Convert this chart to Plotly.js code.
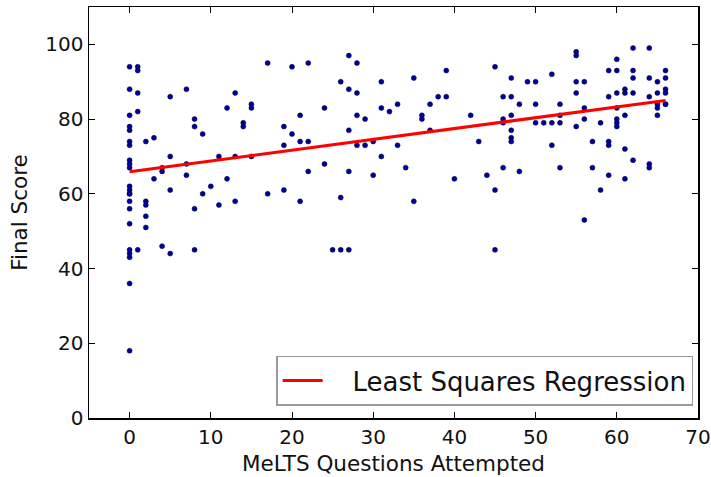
<!DOCTYPE html>
<html>
<head>
<meta charset="utf-8">
<script src="https://cdn.plot.ly/plotly-3.0.1.min.js"></script>
<style>html,body{margin:0;padding:0;background:#fff;}#chart{width:711px;height:477px;}</style>
</head>
<body>
<div id="chart"></div>
<script>
const questionsAttempted = [
  0,0,0,0,0,0,0,0,0,0,0,0,0,0,0,0,0,0,0,0,0,0,
  1,1,1,1,1,
  2,2,2,2,2,
  3,3,
  4,4,4,
  5,5,5,5,
  7,7,7,
  8,8,8,8,
  9,9,
  10,
  11,11,
  12,12,
  13,13,13,
  14,14,
  15,15,15,
  17,17,
  19,19,19,
  20,20,
  21,21,21,
  22,22,22,
  24,24,
  25,26,27,
  26,26,
  27,27,27,27,
  28,28,28,28,
  29,29,
  30,30,
  31,31,31,
  32,
  33,33,
  34,
  35,35,
  36,36,
  37,37,
  38,
  39,39,
  40,
  42,
  43,
  44,
  45,45,45,
  46,46,46,46,
  47,47,47,47,47,47,
  48,48,
  49,
  50,50,50,
  51,
  52,52,52,
  53,53,53,53,
  55,55,55,55,55,
  56,56,56,56,
  57,57,
  58,58,
  59,59,59,59,59,
  60,60,60,60,60,60,60,
  61,61,61,61,61,
  62,62,62,62,62,
  64,64,64,64,64,
  65,65,65,65,65,
  66,66,66,66,66,66
];
const finalScore = [
  94,88,81,78,77,74,73,69,68,67,62,61,60,60,58,56,52,45,44,43,36,18,
  94,93,87,82,45,
  74,58,57,54,51,
  75,64,
  67,66,46,
  86,70,61,44,
  88,68,65,
  80,78,56,45,
  76,60,
  62,
  70,57,
  83,64,
  87,70,58,
  79,78,
  84,83,70,
  95,60,
  78,73,61,
  94,76,
  81,74,58,
  95,74,66,
  83,68,
  45,45,45,
  90,59,
  97,88,77,66,
  95,87,81,73,
  80,73,
  74,65,
  90,83,70,
  82,
  84,73,
  67,
  91,58,
  81,80,
  84,77,
  86,
  93,86,
  64,
  81,
  74,
  65,
  94,61,45,
  86,80,79,67,
  91,86,81,77,75,74,
  84,66,
  90,
  90,84,79,
  79,
  92,79,73,
  84,81,79,67,
  98,97,90,87,78,
  90,83,80,53,
  74,67,
  79,61,
  93,86,74,73,65,
  96,93,87,83,80,79,78,
  88,87,81,72,64,
  99,93,91,87,69,
  99,91,86,68,67,
  90,87,84,83,81,
  93,91,88,87,84,84
];
const regressionX = [0, 66];
const regressionY = [65.9, 85.0];
const xTicks = [0,10,20,30,40,50,60,70];
const yTicks = [0,20,40,60,80,100];

const font = "'DejaVu Sans', sans-serif";

const traces = [
  {
    x: questionsAttempted, y: finalScore, type: 'scatter', mode: 'markers',
    marker: {color: '#00009c', size: 5, line: {color: '#000033', width: 0.5}},
    showlegend: false, hoverinfo: 'x+y'
  },
  {
    x: regressionX, y: regressionY, type: 'scatter', mode: 'lines',
    line: {color: '#ff0000', width: 3},
    name: '\u00a0\u00a0\u00a0Least Squares Regression'
  }
];

const axisCommon = {
  showgrid: false, zeroline: false, showline: true, linecolor: '#000', linewidth: 1.5,
  mirror: 'ticks', ticks: 'inside', ticklen: 6, tickwidth: 1, tickcolor: '#000',
  tickfont: {family: font, size: 20, color: '#111'}
};

const layout = {
  width: 711, height: 477,
  margin: {l: 89, r: 13, t: 7, b: 59},
  paper_bgcolor: '#fff', plot_bgcolor: '#fff',
  font: {family: font, color: '#111'},
  xaxis: Object.assign({}, axisCommon, {
    range: [-5, 70], tickvals: xTicks, ticktext: xTicks.map(String),
    title: {text: 'MeLTS Questions Attempted', font: {family: font, size: 21.5, color: '#111'}, standoff: 8}
  }),
  yaxis: Object.assign({}, axisCommon, {
    range: [0, 110], tickvals: yTicks, ticktext: yTicks.map(String),
    title: {text: 'Final Score', font: {family: font, size: 21.5, color: '#111'}, standoff: 12}
  }),
  legend: {
    x: 0.992, y: 0.03, xanchor: 'right', yanchor: 'bottom',
    bgcolor: '#fff', bordercolor: '#999', borderwidth: 1.5,
    itemwidth: 40,
    font: {family: font, size: 26, color: '#111'}
  },
  showlegend: true
};

Plotly.newPlot('chart', traces, layout, {displayModeBar: false, staticPlot: true});
</script>
</body>
</html>
